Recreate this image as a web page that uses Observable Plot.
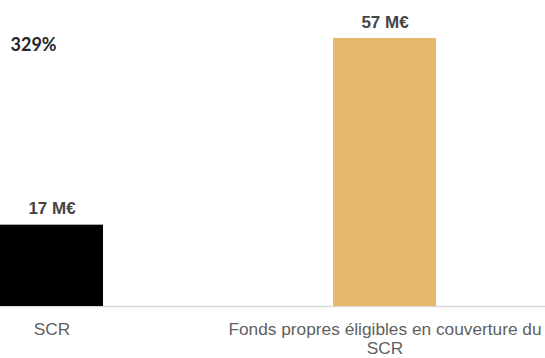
<!DOCTYPE html>
<html>
<head>
<meta charset="utf-8">
<script src="https://cdn.jsdelivr.net/npm/d3@7"></script>
<script src="https://cdn.jsdelivr.net/npm/@observablehq/plot@0.6"></script>
<style>
  html, body { margin: 0; padding: 0; background: #fff; }
  #chart svg { display: block; }
</style>
</head>
<body>
<div id="chart"></div>
<script>
const categories = ["SCR", "Fonds propres éligibles en couverture du SCR"];
const tickLabels = ["SCR", "Fonds propres éligibles en couverture du\nSCR"];
const values = [17.3, 57];
const valueLabels = ["17 M€", "57 M€"];
const colors = ["#000000", "#e5b86c"];
const ratioLabel = ["329%"];

const data = categories.map((c, i) => ({cat: c, value: values[i], label: valueLabels[i], color: colors[i]}));

const chart = Plot.plot({
  width: 545,
  height: 358,
  marginLeft: 0,
  marginRight: 0,
  marginTop: 38,
  marginBottom: 52,
  style: {fontFamily: "'Liberation Sans', Arial, sans-serif", background: "#fff"},
  x: {domain: categories, paddingInner: 0.69, paddingOuter: 0.163, align: 0, label: null},
  y: {domain: [0, 57], axis: null},
  marks: [
    Plot.ruleY([0], {stroke: "#d9d9d9", strokeWidth: 1.5}),
    Plot.barY(data, {x: "cat", y: "value", fill: "color"}),
    Plot.text(data, {x: "cat", y: "value", text: "label", lineAnchor: "bottom", dy: -11,
      fontSize: 17, fontWeight: "bold", fill: "#454545"}),
    Plot.text(ratioLabel, {text: d => d, frameAnchor: "top-left", textAnchor: "start", lineAnchor: "middle",
      dx: 10, dy: 7, fontSize: 18, fontWeight: "bold", fill: "#262626",
      fontFamily: "Lato, 'Liberation Sans', sans-serif"}),
    Plot.axisX({tickSize: 0, tickPadding: 15, fontSize: 17.3, fill: "#5f5f5f", lineHeight: 1.1,
      tickFormat: (d) => tickLabels[categories.indexOf(d)], label: null})
  ]
});
document.getElementById("chart").appendChild(chart);
</script>
</body>
</html>
